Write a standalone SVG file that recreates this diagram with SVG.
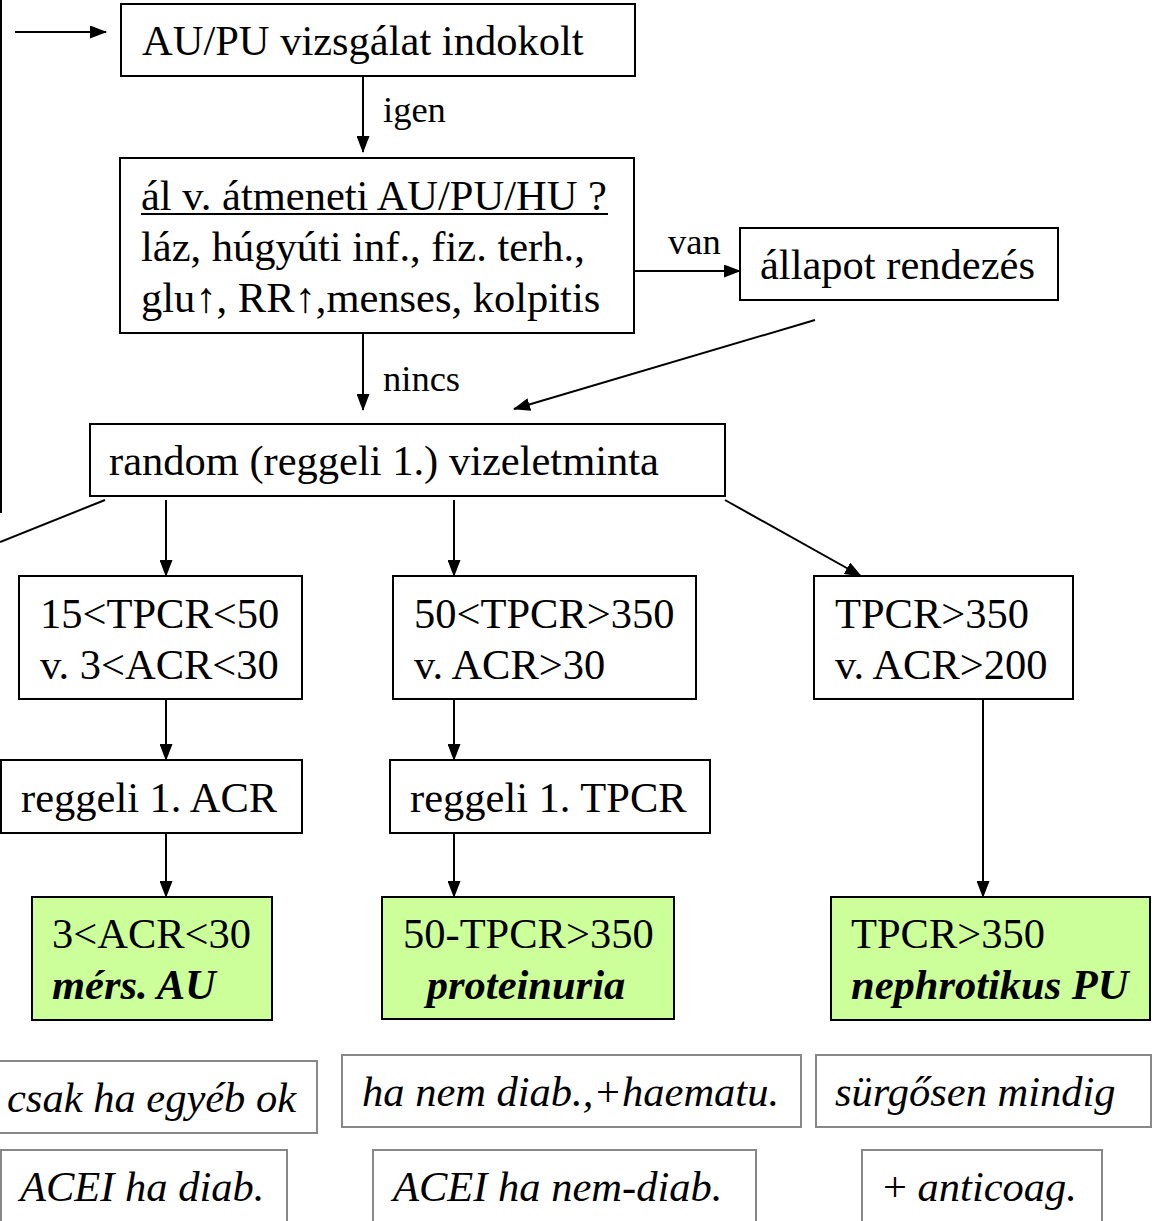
<svg xmlns="http://www.w3.org/2000/svg" width="1155" height="1221" viewBox="0 0 1155 1221">
<defs>
<marker id="ah" markerWidth="17" markerHeight="13" refX="16" refY="6.5" orient="auto" markerUnits="userSpaceOnUse">
<path d="M0,0 L17,6.5 L0,13 Z" fill="#000"/>
</marker>
<style>
.box{fill:#fff;stroke:#000;stroke-width:2}
.green{fill:#ccff99;stroke:#000;stroke-width:2}
.gray{fill:#fff;stroke:#888;stroke-width:2}
.t{font-family:"Liberation Serif","Times New Roman",serif;font-size:42.5px;fill:#000}
.lbl{font-family:"Liberation Serif","Times New Roman",serif;font-size:36.5px;fill:#000}
.it{font-style:italic}
.bi{font-style:italic;font-weight:bold}
.c{stroke:#000;stroke-width:2;fill:none}
</style>
</defs>
<rect width="1155" height="1221" fill="#fff"/>
<g id="connectors">
<line class="c" x1="1" y1="0" x2="1" y2="513"/>
<line class="c" x1="105" y1="500" x2="0" y2="542"/>
<line class="c" x1="15" y1="32" x2="106" y2="32" marker-end="url(#ah)"/>
<line class="c" x1="363" y1="76" x2="363" y2="152" marker-end="url(#ah)"/>
<line class="c" x1="635" y1="271" x2="740" y2="271" marker-end="url(#ah)"/>
<line class="c" x1="815" y1="320" x2="514" y2="409" marker-end="url(#ah)"/>
<line class="c" x1="363" y1="333" x2="363" y2="410" marker-end="url(#ah)"/>
<line class="c" x1="166" y1="500" x2="166" y2="576" marker-end="url(#ah)"/>
<line class="c" x1="454" y1="500" x2="454" y2="576" marker-end="url(#ah)"/>
<line class="c" x1="725" y1="500" x2="861" y2="576" marker-end="url(#ah)"/>
<line class="c" x1="166" y1="699" x2="166" y2="760" marker-end="url(#ah)"/>
<line class="c" x1="454" y1="699" x2="454" y2="760" marker-end="url(#ah)"/>
<line class="c" x1="983" y1="699" x2="983" y2="897" marker-end="url(#ah)"/>
<line class="c" x1="166" y1="833" x2="166" y2="897" marker-end="url(#ah)"/>
<line class="c" x1="454" y1="833" x2="454" y2="897" marker-end="url(#ah)"/>
<text class="lbl" x="383" y="122">igen</text>
<text class="lbl" x="668" y="254">van</text>
<text class="lbl" x="383" y="391">nincs</text>
</g>
<g id="n-indokolt">
<rect class="box" x="121" y="4" width="514" height="72"/>
<text class="t" x="142" y="55">AU/PU vizsgálat indokolt</text>
</g>
<g id="n-atmeneti">
<rect class="box" x="120" y="158" width="514" height="175"/>
<text class="t" x="141" y="210">ál v. átmeneti AU/PU/HU ?</text>
<line x1="141" y1="214" x2="608" y2="214" stroke="#000" stroke-width="2"/>
<text class="t" x="141" y="261">láz, húgyúti inf., fiz. terh.,</text>
<text class="t" x="141" y="312">glu↑, RR↑,menses, kolpitis</text>
</g>
<g id="n-rendezes">
<rect class="box" x="740" y="228" width="318" height="72"/>
<text class="t" x="760" y="279">állapot rendezés</text>
</g>
<g id="n-random">
<rect class="box" x="90" y="424" width="635" height="72"/>
<text class="t" x="109" y="475">random (reggeli 1.) vizeletminta</text>
</g>
<g id="n-a">
<rect class="box" x="19" y="576" width="283" height="123"/>
<text class="t" x="40" y="628">15&lt;TPCR&lt;50</text>
<text class="t" x="40" y="679">v. 3&lt;ACR&lt;30</text>
</g>
<g id="n-b">
<rect class="box" x="393" y="576" width="303" height="123"/>
<text class="t" x="414" y="628">50&lt;TPCR&gt;350</text>
<text class="t" x="414" y="679">v. ACR&gt;30</text>
</g>
<g id="n-c">
<rect class="box" x="814" y="576" width="259" height="123"/>
<text class="t" x="835" y="628">TPCR&gt;350</text>
<text class="t" x="835" y="679">v. ACR&gt;200</text>
</g>
<g id="n-d">
<rect class="box" x="1" y="760" width="301" height="73"/>
<text class="t" x="21" y="812">reggeli 1. ACR</text>
</g>
<g id="n-e">
<rect class="box" x="390" y="760" width="320" height="73"/>
<text class="t" x="410" y="812">reggeli 1. TPCR</text>
</g>
<g id="n-f">
<rect class="green" x="32" y="897" width="240" height="123"/>
<text class="t" x="52" y="948">3&lt;ACR&lt;30</text>
<text class="t bi" x="52" y="999">mérs. AU</text>
</g>
<g id="n-g">
<rect class="green" x="382" y="897" width="292" height="122"/>
<text class="t" x="403" y="948">50-TPCR&gt;350</text>
<text class="t bi" x="526" y="999" text-anchor="middle">proteinuria</text>
</g>
<g id="n-h">
<rect class="green" x="831" y="897" width="319" height="123"/>
<text class="t" x="851" y="948">TPCR&gt;350</text>
<text class="t bi" x="851" y="999">nephrotikus PU</text>
</g>
<g id="n-i1">
<rect class="gray" x="-5" y="1061" width="322" height="72"/>
<text class="t it" x="7" y="1112">csak ha egyéb ok</text>
</g>
<g id="n-i2">
<rect class="gray" x="342" y="1055" width="459" height="72"/>
<text class="t it" x="362" y="1106">ha nem diab.,+haematu.</text>
</g>
<g id="n-i3">
<rect class="gray" x="816" y="1055" width="335" height="72"/>
<text class="t it" x="835" y="1106">sürgősen mindig</text>
</g>
<g id="n-j1">
<rect class="gray" x="1" y="1150" width="286" height="90"/>
<text class="t it" x="20" y="1201">ACEI ha diab.</text>
</g>
<g id="n-j2">
<rect class="gray" x="373" y="1150" width="383" height="90"/>
<text class="t it" x="393" y="1201">ACEI ha nem-diab.</text>
</g>
<g id="n-j3">
<rect class="gray" x="862" y="1150" width="240" height="90"/>
<text class="t" x="883" y="1201">+ <tspan class="it">anticoag.</tspan></text>
</g>
</svg>
